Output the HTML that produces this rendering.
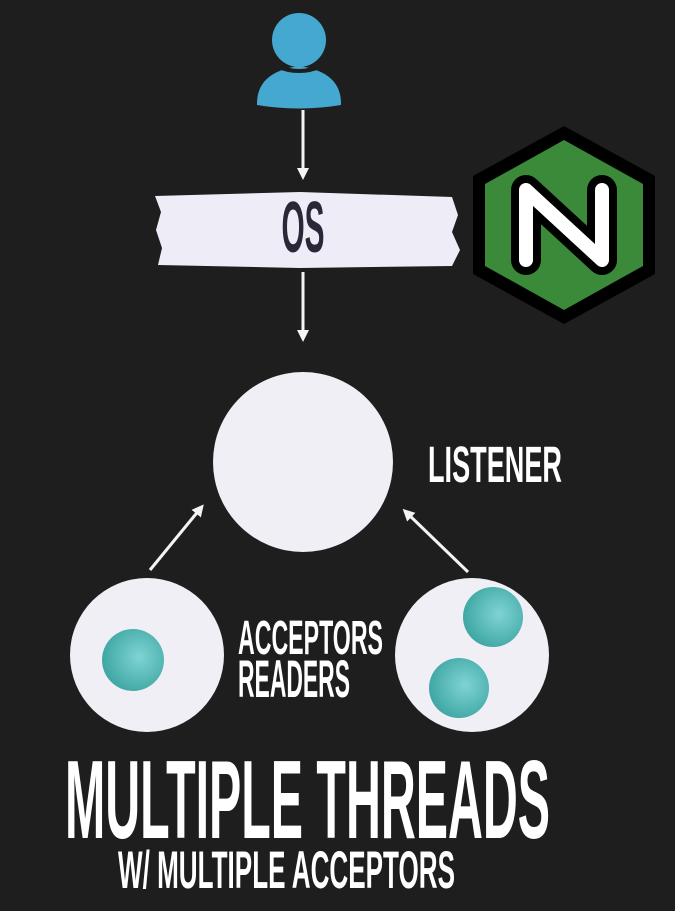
<!DOCTYPE html>
<html><head><meta charset="utf-8"><style>
html,body{margin:0;padding:0;background:#1e1e1e;}
svg{display:block}
text{font-family:"Liberation Sans",sans-serif;font-weight:bold;}
</style></head><body>
<svg width="675" height="911" viewBox="0 0 675 911" xmlns="http://www.w3.org/2000/svg">
<rect width="675" height="911" fill="#1e1e1e"/>
<defs>
<marker id="ah" markerWidth="12" markerHeight="12" refX="6" refY="6" orient="auto" markerUnits="userSpaceOnUse">
<path d="M0,0 L12,6 L0,12 Z" fill="#f4f4f4"/>
</marker>
<radialGradient id="ball" cx="0.6" cy="0.45" r="0.6">
<stop offset="0" stop-color="#7fd4d2"/><stop offset="1" stop-color="#3fa7a4"/>
</radialGradient>
</defs>
<circle cx="299" cy="40" r="27" fill="#45a8d0"/>
<path d="M257,105 Q256,72 299,66 Q342,72 341,105 Q299,112 257,105 Z" fill="#45a8d0"/>
<path d="M276,66 Q299,76 322,66" stroke="#1e1e1e" stroke-width="4" fill="none"/>
<line x1="303" y1="110" x2="303" y2="174" stroke="#f4f4f4" stroke-width="3" marker-end="url(#ah)"/>
<line x1="303" y1="272" x2="303" y2="336" stroke="#f4f4f4" stroke-width="3" marker-end="url(#ah)"/>
<path d="M155,196 L300,192 L452,197 L458,215 L452,232 L460,250 L452,266 L300,268 L158,265 L162,248 L156,230 L161,212 Z" fill="#eeedf7"/>
<text x="303" y="252" text-anchor="middle" font-size="72" fill="#2a2838" textLength="43" lengthAdjust="spacingAndGlyphs">OS</text>
<polygon points="564,126 655,176 655,274 564,324 473,274 473,176" fill="#000"/>
<polygon points="564,140 643,184 643,266 564,310 485,266 485,184" fill="#3a8a3a"/>
<path d="M526,260 V190 L602,260 V190" stroke="#000" stroke-width="30" fill="none" stroke-linejoin="round" stroke-linecap="round"/>
<path d="M526,260 V190 L602,260 V190" stroke="#fff" stroke-width="14" fill="none" stroke-linejoin="round" stroke-linecap="round"/>
<circle cx="303" cy="462" r="90" fill="#f0eff5"/>
<text x="428" y="482" font-size="51" fill="#fff" textLength="134" lengthAdjust="spacingAndGlyphs">LISTENER</text>
<line x1="150" y1="570" x2="200" y2="509" stroke="#f4f4f4" stroke-width="3" marker-end="url(#ah)"/>
<line x1="468" y1="572" x2="407" y2="513" stroke="#f4f4f4" stroke-width="3" marker-end="url(#ah)"/>
<circle cx="147" cy="655" r="77" fill="#f0eff5"/>
<circle cx="133" cy="660" r="31" fill="url(#ball)"/>
<circle cx="472" cy="655" r="77" fill="#f0eff5"/>
<circle cx="493" cy="617" r="30" fill="url(#ball)"/>
<circle cx="459" cy="688" r="30" fill="url(#ball)"/>
<text x="238" y="654" font-size="48" fill="#fff" textLength="145" lengthAdjust="spacingAndGlyphs">ACCEPTORS</text>
<text x="238" y="697" font-size="53" fill="#fff" textLength="112" lengthAdjust="spacingAndGlyphs">READERS</text>
<text x="65" y="838" font-size="111" fill="#fff" textLength="485" lengthAdjust="spacingAndGlyphs">MULTIPLE THREADS</text>
<text x="118" y="888" font-size="53" fill="#fff" textLength="337" lengthAdjust="spacingAndGlyphs">W/ MULTIPLE ACCEPTORS</text>
</svg>
</body></html>
